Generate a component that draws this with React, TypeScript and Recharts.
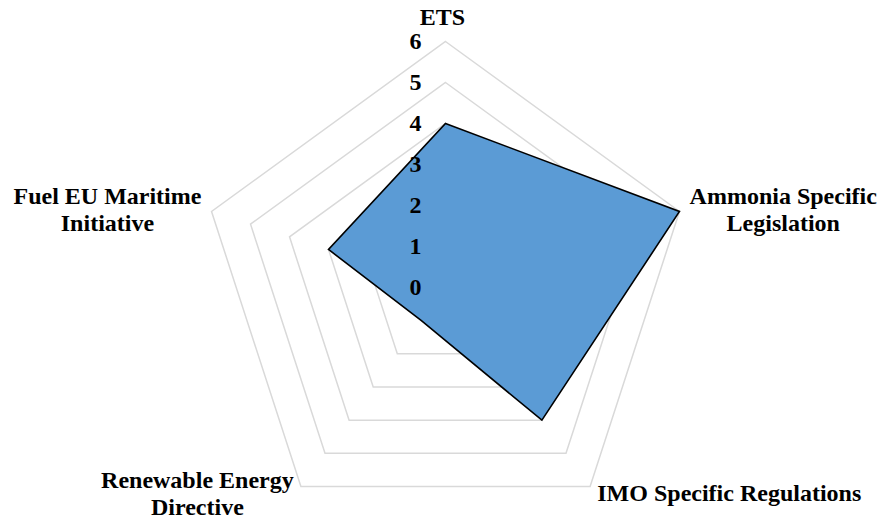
import { RadarChart, Radar, PolarGrid, PolarAngleAxis, PolarRadiusAxis } from 'recharts'

// Policy drivers around the radar, clockwise from the top
const categories = [
  'ETS',
  'Ammonia Specific Legislation',
  'IMO Specific Regulations',
  'Renewable Energy Directive',
  'Fuel EU Maritime Initiative',
]

// How each category label wraps
const categoryLines = [
  ['ETS'],
  ['Ammonia Specific', 'Legislation'],
  ['IMO Specific Regulations'],
  ['Renewable Energy', 'Directive'],
  ['Fuel EU Maritime', 'Initiative'],
]

const scores = [4, 6, 4, 1, 3]

const radiusTicks = [0, 1, 2, 3, 4, 5, 6]

const data = categories.map((category, i) => ({ category, score: scores[i] }))

const WIDTH = 879
const HEIGHT = 521
const CX = 445.5
const CY = 287.5
const FONT_FAMILY = '"Times New Roman", "Liberation Serif", serif'
const FONT_SIZE = 24
const LINE_HEIGHT = 27

let measureCtx: CanvasRenderingContext2D | null = null
const textWidth = (s: string) => {
  if (!measureCtx) measureCtx = document.createElement('canvas').getContext('2d')
  if (!measureCtx) return s.length * FONT_SIZE * 0.5
  measureCtx.font = `bold ${FONT_SIZE}px ${FONT_FAMILY}`
  return measureCtx.measureText(s).width
}

const textStyle = {
  fontFamily: FONT_FAMILY,
  fontSize: FONT_SIZE,
  fontWeight: 'bold' as const,
  fill: '#000',
}

// Category labels: centred blocks placed beside each spoke end
const AngleTick = (props: any) => {
  const { x, y, textAnchor, payload } = props
  const lines = categoryLines[categories.indexOf(payload.value)] || [String(payload.value)]
  const n = lines.length

  if (textAnchor === 'middle') {
    const last = y - 8.5
    return (
      <text textAnchor="middle" {...textStyle}>
        {lines.map((line, i) => (
          <tspan key={i} x={x - 3} y={last - (n - 1 - i) * LINE_HEIGHT}>
            {line}
          </tspan>
        ))}
      </text>
    )
  }

  const w = Math.max(...lines.map(textWidth))
  const mid = textAnchor === 'start' ? x + 2.5 + w / 2 : x - 2.5 - w / 2
  const first = y + 8 - ((n - 1) * LINE_HEIGHT) / 2 + (y > CY && n > 1 ? 1 : 0)
  return (
    <text textAnchor="middle" {...textStyle}>
      {lines.map((line, i) => (
        <tspan key={i} x={mid} y={first + i * LINE_HEIGHT}>
          {line}
        </tspan>
      ))}
    </text>
  )
}

// Value labels sit just left of the vertical spoke
const RadiusTick = (props: any) => {
  const { x, y, payload } = props
  return (
    <text x={x - 30} y={y + 7.5} textAnchor="middle" {...textStyle}>
      {payload.value}
    </text>
  )
}

export default function App() {
  return (
    <div style={{ position: 'absolute', left: 0, top: 0, width: WIDTH, height: HEIGHT, background: '#fff' }}>
      <RadarChart
        width={WIDTH}
        height={HEIGHT}
        data={data}
        cx={CX}
        cy={CY}
        outerRadius={246}
        margin={{ top: 0, right: 0, bottom: 0, left: 0 }}
      >
        <PolarGrid gridType="polygon" radialLines={false} stroke="#d9d9d9" strokeWidth={1.5} />
        <Radar
          dataKey="score"
          fill="#5b9bd5"
          fillOpacity={1}
          stroke="#000"
          strokeWidth={1.6}
          dot={false}
          isAnimationActive={false}
        />
        <PolarAngleAxis dataKey="category" tick={AngleTick} axisLine={false} tickLine={false} />
        <PolarRadiusAxis
          angle={90}
          type="number"
          domain={[0, 6]}
          ticks={radiusTicks as any}
          tickCount={7}
          axisLine={false}
          tickLine={false}
          tick={RadiusTick}
        />
      </RadarChart>
    </div>
  )
}
